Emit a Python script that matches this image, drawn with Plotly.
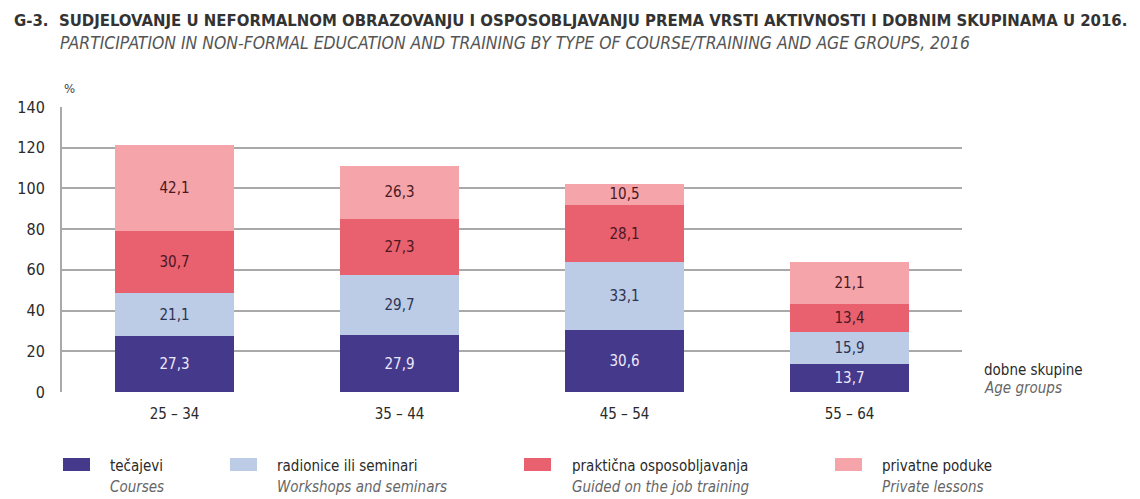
import plotly.graph_objects as go

categories = ["25 – 34", "35 – 44", "45 – 54", "55 – 64"]
courses = [27.3, 27.9, 30.6, 13.7]
workshops = [21.1, 29.7, 33.1, 15.9]
guided = [30.7, 27.3, 28.1, 13.4]
private = [42.1, 26.3, 10.5, 21.1]

series_hr = ["tečajevi", "radionice ili seminari", "praktična osposobljavanja", "privatne poduke"]
series_en = ["Courses", "Workshops and seminars", "Guided on the job training", "Private lessons"]
y_ticks = [0, 20, 40, 60, 80, 100, 120, 140]

colors = ["#45398b", "#bccbe6", "#e9606f", "#f5a4a9"]
text_colors = ["#ece8fb", "#2c3352", "#4a1822", "#4a1822"]

NARROW = "DejaVu Sans Condensed, Liberation Sans Narrow, Roboto, sans-serif"

fig = go.Figure()
for vals, name, col, tc in zip([courses, workshops, guided, private], series_hr, colors, text_colors):
    fig.add_trace(go.Bar(
        x=categories, y=vals, name=name,
        marker=dict(color=col, line=dict(width=0)),
        texttemplate="%{y:.1f}", textposition="inside", insidetextanchor="middle",
        textangle=0, constraintext="none",
        textfont=dict(color=tc, size=15, family=NARROW),
        showlegend=False, hoverinfo="skip",
    ))

# page body has an 8px offset; compensate so the plot area sits at 62..962 x, 107..392 y
OFF = 8
fig.update_layout(
    width=1140 - OFF, height=499 - OFF,
    barmode="stack", bargap=0.47,
    separators=",.",
    paper_bgcolor="white", plot_bgcolor="white",
    margin=dict(l=62 - OFF, r=178, t=107 - OFF, b=107, autoexpand=False),
    uniformtext=dict(minsize=14, mode="show"),
    font=dict(family=NARROW, color="#333333"),
)
fig.update_xaxes(
    type="category", range=[-0.5, 3.5], showgrid=False, showline=False, zeroline=False,
    tickfont=dict(size=15, color="#2a2a2a", family=NARROW), ticks="outside", ticklen=8, tickcolor="white",
)
fig.update_yaxes(
    range=[0, 140], tickvals=y_ticks, showgrid=True, gridcolor="#a9a9a9", gridwidth=2,
    showline=True, linecolor="#a9a9a9", linewidth=2, zeroline=False,
    tickfont=dict(size=16, color="#2a2a2a", family=NARROW), ticklabelstandoff=12,
)

def px_x(p):
    return (p - 62) / 900.0

def px_y(p):
    return (392 - p) / 285.0

ann = []
ann.append(dict(text="<b>G-3.  SUDJELOVANJE U NEFORMALNOM OBRAZOVANJU I OSPOSOBLJAVANJU PREMA VRSTI AKTIVNOSTI I DOBNIM SKUPINAMA U 2016.</b>",
                x=px_x(12), y=px_y(21), xanchor="left", yanchor="middle",
                font=dict(size=16.6, color="#333333", family=NARROW)))
ann.append(dict(text="<i>PARTICIPATION IN NON-FORMAL EDUCATION AND TRAINING BY TYPE OF COURSE/TRAINING AND AGE GROUPS, 2016</i>",
                x=px_x(58), y=px_y(43), xanchor="left", yanchor="middle",
                font=dict(size=17.4, color="#555555", family=NARROW)))
ann.append(dict(text="%", x=px_x(62), y=px_y(88), xanchor="left", yanchor="middle",
                font=dict(size=13, color="#444444", family=NARROW)))
ann.append(dict(text="dobne skupine", x=px_x(982), y=px_y(370), xanchor="left", yanchor="middle",
                font=dict(size=15, color="#2a2a2a", family=NARROW)))
ann.append(dict(text="<i>Age groups</i>", x=px_x(982), y=px_y(388), xanchor="left", yanchor="middle",
                font=dict(size=15, color="#666666", family=NARROW)))

shapes = []
sq_x = [63, 230, 524, 835]
txt_x = [108, 275, 570, 880]
for i in range(4):
    shapes.append(dict(type="rect", xref="paper", yref="paper",
                       x0=px_x(sq_x[i]), x1=px_x(sq_x[i] + 27), y0=px_y(471), y1=px_y(458),
                       fillcolor=colors[i], line=dict(width=0)))
    ann.append(dict(text=series_hr[i], x=px_x(txt_x[i]), y=px_y(466), xanchor="left", yanchor="middle",
                    font=dict(size=15, color="#2a2a2a", family=NARROW)))
    ann.append(dict(text="<i>" + series_en[i] + "</i>", x=px_x(txt_x[i]), y=px_y(487), xanchor="left", yanchor="middle",
                    font=dict(size=15, color="#666666", family=NARROW)))

for a in ann:
    a.update(xref="paper", yref="paper", showarrow=False)
fig.update_layout(annotations=ann, shapes=shapes)

fig.write_html("out.html")
